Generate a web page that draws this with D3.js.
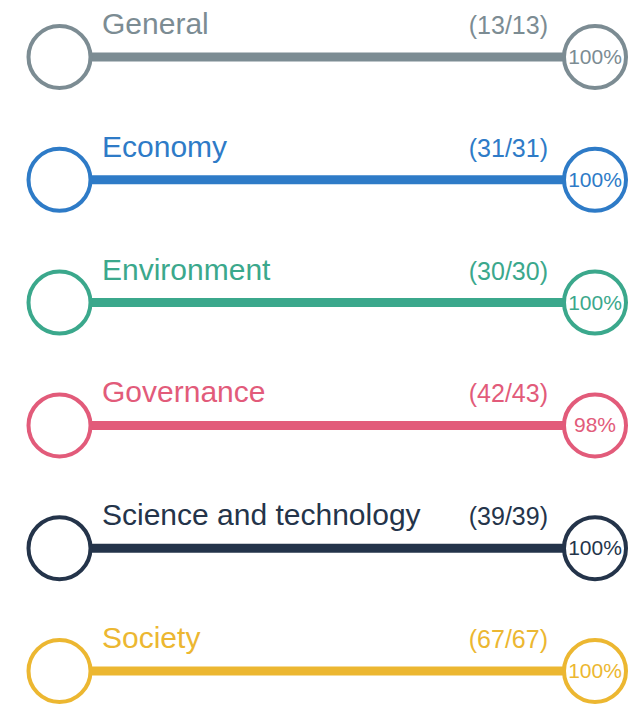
<!DOCTYPE html>
<html>
<head>
<meta charset="utf-8">
<script src="https://cdn.jsdelivr.net/npm/d3@7"></script>
<style>
  html, body { margin: 0; padding: 0; background: #fff; }
  svg text { font-family: "Liberation Sans", Arial, sans-serif; }
</style>
</head>
<body>
<svg id="chart" width="628" height="704"></svg>
<script>
// progress per category
var categories = ["General", "Economy", "Environment", "Governance", "Science and technology", "Society"];
var done = [13, 31, 30, 42, 39, 67];
var total = [13, 31, 30, 43, 39, 67];
var colors = ["#7c8c93", "#2e7bc7", "#3ba88c", "#e25b7a", "#24344a", "#ecb731"];

var svg = d3.select("#chart"),
    width = +svg.attr("width");

var y = d3.scalePoint()
    .domain(categories)
    .range([57, 671]);

// track runs from left node to right node
var x = d3.scaleLinear()
    .domain([0, 1])
    .range([59.5, 595]);

var r = 31;

var rows = svg.selectAll("g.row")
    .data(categories.map(function(c, i) {
      return {name: c, done: done[i], total: total[i], color: colors[i]};
    }))
    .enter().append("g")
      .attr("class", "row")
      .attr("transform", function(d) { return "translate(0," + y(d.name) + ")"; });

rows.append("line")
    .attr("x1", x(0) + r)
    .attr("x2", x(1) - r)
    .attr("y1", 0)
    .attr("y2", 0)
    .attr("stroke", function(d) { return d.color; })
    .attr("stroke-width", 9);

rows.append("circle")
    .attr("cx", x(0))
    .attr("r", r)
    .attr("fill", "#fff")
    .attr("stroke", function(d) { return d.color; })
    .attr("stroke-width", 4);

rows.append("circle")
    .attr("cx", x(1))
    .attr("r", r)
    .attr("fill", "#fff")
    .attr("stroke", function(d) { return d.color; })
    .attr("stroke-width", 4);

rows.append("text")
    .attr("x", 102)
    .attr("y", -23)
    .attr("font-size", 30)
    .attr("fill", function(d) { return d.color; })
    .text(function(d) { return d.name; });

rows.append("text")
    .attr("x", 548)
    .attr("y", -23)
    .attr("text-anchor", "end")
    .attr("font-size", 25)
    .attr("fill", function(d) { return d.color; })
    .text(function(d) { return "(" + d.done + "/" + d.total + ")"; });

rows.append("text")
    .attr("x", x(1))
    .attr("y", 7)
    .attr("text-anchor", "middle")
    .attr("font-size", 21)
    .attr("fill", function(d) { return d.color; })
    .text(function(d) { return Math.round(d.done / d.total * 100) + "%"; });
</script>
</body>
</html>
